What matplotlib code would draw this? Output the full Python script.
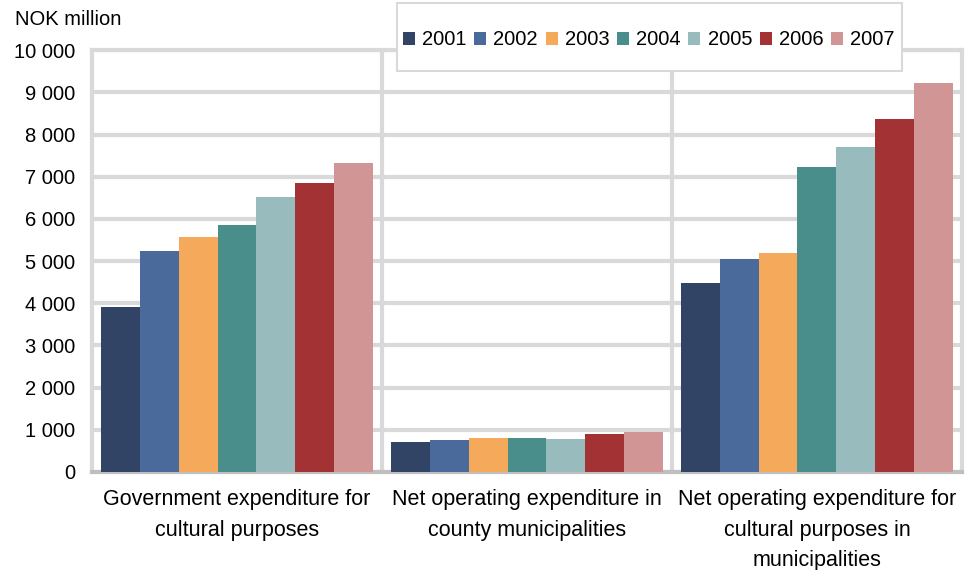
import matplotlib.pyplot as plt
from matplotlib.patches import Rectangle
import numpy as np

plt.rcParams['font.family'] = ['Liberation Sans', 'DejaVu Sans']
plt.rcParams['font.size'] = 14

categories = ["Government expenditure for\ncultural purposes",
              "Net operating expenditure in\ncounty municipalities",
              "Net operating expenditure for\ncultural purposes in\nmunicipalities"]
years = ["2001", "2002", "2003", "2004", "2005", "2006", "2007"]
colors = ["#324466", "#4a6a9c", "#f5a95a", "#4a8e8c", "#98bcbd", "#a33234", "#d09594"]

v2001 = [3910, 700, 4470]
v2002 = [5240, 760, 5040]
v2003 = [5570, 800, 5190]
v2004 = [5850, 800, 7220]
v2005 = [6520, 770, 7700]
v2006 = [6850, 900, 8370]
v2007 = [7320, 950, 9220]
values = [v2001, v2002, v2003, v2004, v2005, v2006, v2007]

fig = plt.figure(figsize=(9.73, 5.7), dpi=100)
ax = fig.add_axes([0.0946, 0.172, 0.894, 0.740])

x = np.arange(len(categories))
n = len(years)
w = 0.94 / n
for i, (yr, vals) in enumerate(zip(years, values)):
    ax.bar(x - 0.47 + w * (i + 0.5), vals, w, color=colors[i], label=yr, zorder=3)

ax.set_xlim(-0.5, 2.5)
ax.set_ylim(0, 10000)
ax.set_yticks(range(0, 10001, 1000))
ax.set_yticklabels([f"{v:,}".replace(",", " ") for v in range(0, 10001, 1000)],
                   fontsize=14.5)
ax.yaxis.grid(True, color="#d9d9d9", linewidth=3, zorder=0)
for xv in [0.5, 1.5]:
    ax.axvline(xv, color="#d9d9d9", linewidth=3, zorder=0)

ax.set_xticks(x)
ax.set_xticklabels(categories, linespacing=1.58, va="top", fontsize=15.5)
ax.tick_params(axis="x", length=0, pad=12.5)
ax.tick_params(axis="y", length=0, pad=12)

for s in ["top", "right", "left"]:
    ax.spines[s].set_color("#d9d9d9")
    ax.spines[s].set_linewidth(3)
ax.spines["bottom"].set_color("#bfbfbf")
ax.spines["bottom"].set_linewidth(3)

fig.text(0.015, 0.965, "NOK million", fontsize=14.5, va="center")

# legend box drawn by hand, legend itself without frame
fig.patches.append(Rectangle((0.408, 0.875), 0.519, 0.119, transform=fig.transFigure,
                             facecolor="white", edgecolor="#d9d9d9", linewidth=1.5,
                             zorder=5))
leg = fig.legend(loc="center left", bbox_to_anchor=(0.408, 0.930), ncol=7,
                 frameon=False, handlelength=0.6, handleheight=0.6,
                 handletextpad=0.35, columnspacing=0.38, borderpad=0.3,
                 borderaxespad=0, fontsize=14.5)
leg.set_zorder(6)

fig.savefig("out.png", dpi=100)
